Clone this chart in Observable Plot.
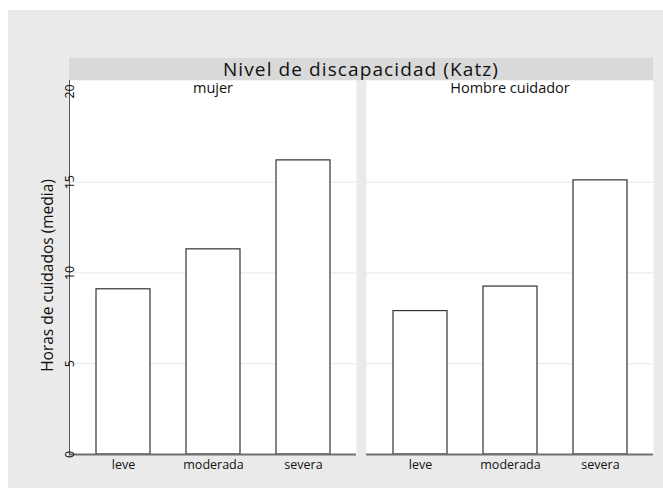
<!DOCTYPE html>
<html><head><meta charset="utf-8">
<script src="https://cdn.jsdelivr.net/npm/d3@7"></script>
<script src="https://cdn.jsdelivr.net/npm/@observablehq/plot@0.6"></script>
<style>
html,body{margin:0;padding:0;background:#fff;overflow:hidden;}
#wrap{position:relative;width:663px;height:488px;}
#bg{position:absolute;left:8px;top:10px;width:655px;height:478px;background:#eaeaea;}
#strip{position:absolute;left:69px;top:58px;width:584px;height:22px;background:#d9d9d9;font:19px "Open Sans",sans-serif;letter-spacing:1.1px;text-align:center;line-height:22px;color:#111;}
#chart{position:absolute;left:0;top:0;}
</style></head>
<body><div id="wrap"><div id="bg"></div><div id="strip">Nivel de discapacidad (Katz)</div><div id="chart"></div></div>
<script>
const sexos = ["mujer", "Hombre cuidador"];
const niveles = ["leve", "moderada", "severa"];
const horasMujer = [9.1, 11.3, 16.2];
const horasHombre = [7.9, 9.25, 15.1];
const yTicks = [0, 5, 10, 15, 20];
const gridTicks = [5, 10, 15];
const yTitle = "Horas de cuidados (media)";

const data = [
  ...niveles.map((n, i) => ({sexo: sexos[0], nivel: n, horas: horasMujer[i]})),
  ...niveles.map((n, i) => ({sexo: sexos[1], nivel: n, horas: horasHombre[i]}))
];

const chart = Plot.plot({
  width: 663,
  height: 488,
  marginTop: 80,
  marginBottom: 34,
  marginLeft: 69,
  marginRight: 10,
  style: {background: "transparent", fontFamily: "'Open Sans', sans-serif", color: "#111"},
  fx: {domain: sexos, paddingInner: 10 / 297, paddingOuter: 0, axis: null, label: null},
  x: {domain: niveles, paddingInner: 0.4, paddingOuter: 0.29, label: null},
  y: {domain: [0, 20.6], label: null},
  marks: [
    Plot.frame({fill: "white", stroke: null}),
    Plot.gridY(gridTicks, {stroke: "#e6e6e6", strokeOpacity: 1, strokeWidth: 1}),
    Plot.barY(data, {fx: "sexo", x: "nivel", y: "horas", fill: "white", stroke: "#333", strokeWidth: 1.2}),
    Plot.ruleY([0], {stroke: "#707070", strokeWidth: 2}),
    Plot.frame({anchor: "left", facetAnchor: "left", stroke: "#555", strokeWidth: 1}),
    Plot.axisY({ticks: yTicks, tickSize: 0, tickPadding: 0, rotate: -90, textAnchor: "middle", fontSize: 12.5, dx: 0, label: null}),
    Plot.axisX({tickSize: 0, tickPadding: 6, fontSize: 12.5, label: null}),
    Plot.text(sexos, {fx: d => d, text: d => d, frameAnchor: "top", lineAnchor: "top", dy: 2, fontSize: 14.5}),
    Plot.text([yTitle], {frameAnchor: "left", facetAnchor: "left", rotate: -90, textAnchor: "middle", dx: -21, dy: 8, fontSize: 15.5})
  ]
});
document.getElementById("chart").appendChild(chart);
</script>
</body></html>
